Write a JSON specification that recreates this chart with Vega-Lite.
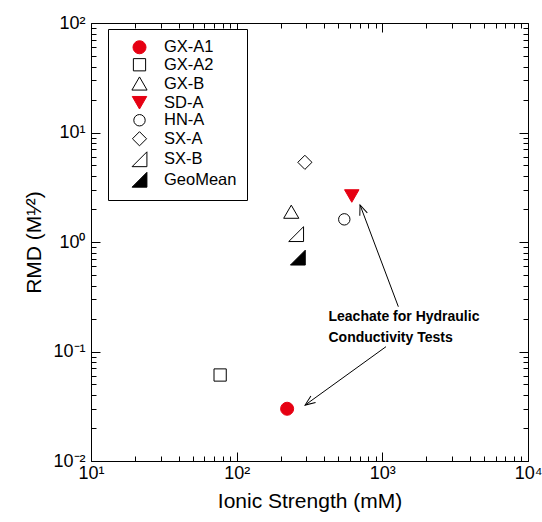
{
  "$schema": "https://vega.github.io/schema/vega-lite/v6.json",
  "width": 437,
  "height": 438,
  "autosize": "none",
  "padding": {"left": 91, "top": 23, "right": 14, "bottom": 61},
  "background": "white",
  "config": {
    "view": {"stroke": "black", "strokeWidth": 1},
    "font": "Liberation Sans",
    "axis": {
      "grid": false,
      "domain": false,
      "ticks": true,
      "tickColor": "black",
      "tickWidth": 1,
      "labelColor": "black",
      "titleColor": "black",
      "labelFont": "Liberation Sans",
      "titleFont": "Liberation Sans",
      "titleFontWeight": "normal",
      "labelFontSize": 18,
      "titleFontSize": 21,
      "labelOverlap": false,
      "labelFlush": false,
      "zindex": 1
    },
    "legend": {
      "orient": "none",
      "legendX": 17,
      "legendY": 6,
      "strokeColor": "black",
      "fillColor": "white",
      "padding": 10,
      "symbolOffset": 13,
      "labelOffset": 16,
      "labelFont": "Liberation Sans",
      "labelFontSize": 16.5,
      "rowPadding": 0.5,
      "symbolStrokeWidth": 1,
      "title": null
    }
  },
  "datasets": {
    "pts": [
      {"series": "GX-A1", "x": 222, "y": 0.030},
      {"series": "GX-A2", "x": 77, "y": 0.061},
      {"series": "GX-B", "x": 237, "y": 1.89},
      {"series": "SD-A", "x": 617, "y": 2.63},
      {"series": "HN-A", "x": 548, "y": 1.61},
      {"series": "SX-A", "x": 294, "y": 5.34},
      {"series": "SX-B", "x": 256, "y": 1.18},
      {"series": "GeoMean", "x": 263, "y": 0.72}
    ],
    "arrows": [
      {"id": "a1", "x": 1288, "y": 0.2565, "x2": 703, "y2": 2.18},
      {"id": "a2", "x": 1060, "y": 0.1107, "x2": 295, "y2": 0.0324}
    ],
    "notes": [
      {"x": 427, "y": 0.191, "label": "Leachate for Hydraulic\nConductivity Tests"}
    ]
  },
  "layer": [
    {
      "data": {"name": "pts"},
      "mark": {"type": "point", "strokeWidth": 1, "opacity": 1},
      "encoding": {
        "x": {
          "field": "x", "type": "quantitative",
          "scale": {"type": "log", "domain": [10, 10000]},
          "axis": {
            "orient": "bottom",
            "title": "Ionic Strength (mM)",
            "values": [10, 100, 1000, 10000],
            "labelExpr": "datum.value == 10 ? '10¹' : datum.value == 100 ? '10²' : datum.value == 1000 ? '10³' : '10⁴'",
            "tickSize": -9,
            "labelPadding": 12,
            "titlePadding": 8
          }
        },
        "y": {
          "field": "y", "type": "quantitative",
          "scale": {"type": "log", "domain": [0.01, 100]},
          "axis": {
            "orient": "left",
            "title": "RMD (M¹⁄²)",
            "values": [0.01, 0.1, 1, 10, 100],
            "labelExpr": "datum.value == 0.01 ? '10⁻²' : datum.value == 0.1 ? '10⁻¹' : datum.value == 1 ? '10⁰' : datum.value == 10 ? '10¹' : '10²'",
            "tickSize": -9,
            "labelPadding": 15,
            "labelBaseline": "middle",
            "titlePadding": 8
          }
        },
        "shape": {
          "field": "series", "type": "nominal",
          "scale": {
            "domain": ["GX-A1","GX-A2","GX-B","SD-A","HN-A","SX-A","SX-B","GeoMean"],
            "range": ["circle","square","triangle-up","triangle-down","circle","diamond","M 1 -1 L 1 1 L -1 1 Z","M 1 -1 L 1 1 L -1 1 Z"]
          },
          "legend": {
            "encode": {
              "labels": {"update": {"fill": {"signal": "datum.value === 'GX-A1' || datum.value === 'SD-A' ? '#e60012' : 'black'"}}}
            }
          }
        },
        "stroke": {
          "field": "series", "type": "nominal",
          "scale": {
            "domain": ["GX-A1","GX-A2","GX-B","SD-A","HN-A","SX-A","SX-B","GeoMean"],
            "range": ["#e60012","black","black","#e60012","black","black","black","black"]
          },
          "legend": {
            "encode": {
              "labels": {"update": {"fill": {"signal": "datum.value === 'GX-A1' || datum.value === 'SD-A' ? '#e60012' : 'black'"}}}
            }
          }
        },
        "fill": {
          "field": "series", "type": "nominal",
          "scale": {
            "domain": ["GX-A1","GX-A2","GX-B","SD-A","HN-A","SX-A","SX-B","GeoMean"],
            "range": ["#e60012","white","white","#e60012","white","white","white","black"]
          },
          "legend": {
            "encode": {
              "labels": {"update": {"fill": {"signal": "datum.value === 'GX-A1' || datum.value === 'SD-A' ? '#e60012' : 'black'"}}}
            }
          }
        },
        "size": {
          "field": "series", "type": "nominal",
          "scale": {
            "type": "ordinal",
            "domain": ["GX-A1","GX-A2","GX-B","SD-A","HN-A","SX-A","SX-B","GeoMean"],
            "range": [170, 150, 230, 210, 130, 200, 220, 220]
          },
          "legend": {
            "encode": {
              "labels": {"update": {"fill": {"signal": "datum.value === 'GX-A1' || datum.value === 'SD-A' ? '#e60012' : 'black'"}}}
            }
          }
        }
      }
    },
    {
      "data": {"name": "pts"},
      "mark": {"type": "point", "opacity": 0},
      "encoding": {
        "x": {
          "field": "x", "type": "quantitative",
          "scale": {"type": "log", "domain": [10, 10000]},
          "axis": {
            "orient": "bottom", "title": null, "labels": false, "tickSize": -5,
            "values": [20,30,40,50,60,70,80,90,200,300,400,500,600,700,800,900,2000,3000,4000,5000,6000,7000,8000,9000]
          }
        },
        "y": {
          "field": "y", "type": "quantitative",
          "scale": {"type": "log", "domain": [0.01, 100]},
          "axis": {
            "orient": "left", "title": null, "labels": false, "tickSize": -5,
            "values": [0.02,0.03,0.04,0.05,0.06,0.07,0.08,0.09,0.2,0.3,0.4,0.5,0.6,0.7,0.8,0.9,2,3,4,5,6,7,8,9,20,30,40,50,60,70,80,90]
          }
        }
      }
    },
    {
      "data": {"name": "pts"},
      "mark": {"type": "point", "opacity": 0},
      "encoding": {
        "x": {
          "field": "x", "type": "quantitative",
          "scale": {"type": "log", "domain": [10, 10000]},
          "axis": {"orient": "top", "title": null, "labels": false, "tickSize": -9, "values": [10, 100, 1000, 10000]}
        },
        "y": {
          "field": "y", "type": "quantitative",
          "scale": {"type": "log", "domain": [0.01, 100]},
          "axis": {"orient": "right", "title": null, "labels": false, "tickSize": -9, "values": [0.01, 0.1, 1, 10, 100]}
        }
      }
    },
    {
      "data": {"name": "pts"},
      "mark": {"type": "point", "opacity": 0},
      "encoding": {
        "x": {
          "field": "x", "type": "quantitative",
          "scale": {"type": "log", "domain": [10, 10000]},
          "axis": {
            "orient": "top", "title": null, "labels": false, "tickSize": -5,
            "values": [20,30,40,50,60,70,80,90,200,300,400,500,600,700,800,900,2000,3000,4000,5000,6000,7000,8000,9000]
          }
        },
        "y": {
          "field": "y", "type": "quantitative",
          "scale": {"type": "log", "domain": [0.01, 100]},
          "axis": {
            "orient": "right", "title": null, "labels": false, "tickSize": -5,
            "values": [0.02,0.03,0.04,0.05,0.06,0.07,0.08,0.09,0.2,0.3,0.4,0.5,0.6,0.7,0.8,0.9,2,3,4,5,6,7,8,9,20,30,40,50,60,70,80,90]
          }
        }
      }
    },
    {
      "data": {"name": "arrows"},
      "mark": {"type": "rule", "color": "black", "strokeWidth": 1},
      "encoding": {
        "x": {"field": "x", "type": "quantitative", "scale": {"type": "log", "domain": [10, 10000]}, "axis": null},
        "y": {"field": "y", "type": "quantitative", "scale": {"type": "log", "domain": [0.01, 100]}, "axis": null},
        "x2": {"field": "x2"},
        "y2": {"field": "y2"}
      }
    },
    {
      "data": {"name": "arrows"},
      "transform": [{"filter": "datum.id === 'a1'"}],
      "mark": {"type": "point", "shape": "M -0.4 1 L 0 0 L 0.4 1", "size": 400, "angle": 339.4, "stroke": "black", "strokeWidth": 1, "filled": false, "opacity": 1},
      "encoding": {
        "x": {"field": "x2", "type": "quantitative", "scale": {"type": "log", "domain": [10, 10000]}, "axis": null},
        "y": {"field": "y2", "type": "quantitative", "scale": {"type": "log", "domain": [0.01, 100]}, "axis": null}
      }
    },
    {
      "data": {"name": "arrows"},
      "transform": [{"filter": "datum.id === 'a2'"}],
      "mark": {"type": "point", "shape": "M -0.4 1 L 0 0 L 0.4 1", "size": 400, "angle": 234.3, "stroke": "black", "strokeWidth": 1, "filled": false, "opacity": 1},
      "encoding": {
        "x": {"field": "x2", "type": "quantitative", "scale": {"type": "log", "domain": [10, 10000]}, "axis": null},
        "y": {"field": "y2", "type": "quantitative", "scale": {"type": "log", "domain": [0.01, 100]}, "axis": null}
      }
    },
    {
      "data": {"name": "notes"},
      "mark": {"type": "text", "align": "left", "baseline": "alphabetic", "font": "Liberation Sans", "fontSize": 14, "fontWeight": "bold", "lineBreak": "\n", "lineHeight": 21, "color": "black"},
      "encoding": {
        "x": {"field": "x", "type": "quantitative", "scale": {"type": "log", "domain": [10, 10000]}, "axis": null},
        "y": {"field": "y", "type": "quantitative", "scale": {"type": "log", "domain": [0.01, 100]}, "axis": null},
        "text": {"field": "label"}
      }
    }
  ],
  "resolve": {"axis": {"x": "independent", "y": "independent"}}
}
